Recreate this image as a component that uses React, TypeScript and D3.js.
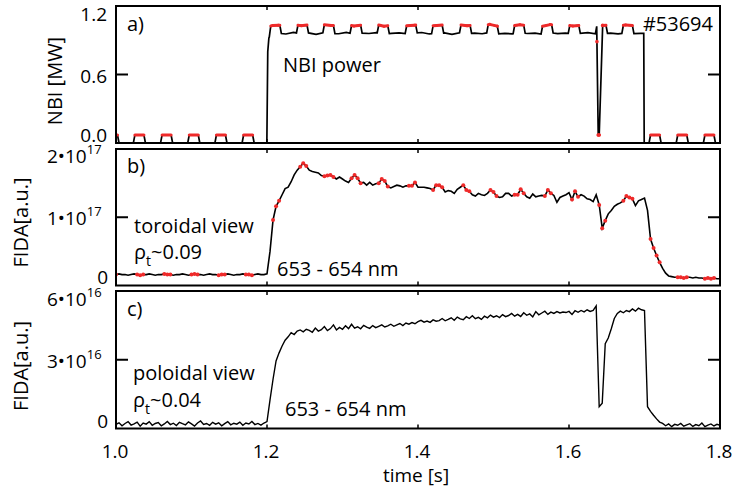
import React from "react";
import * as d3 from "d3";

// ---- time axis ----
const timeDomain = [1.0, 1.8];
const timeTicks = [1.0, 1.2, 1.4, 1.6, 1.8];
const timeTickLabels = ["1.0", "1.2", "1.4", "1.6", "1.8"];

// ---- beam blips (plateau start times, s) ----
const blipStarts = [
  0.990, 1.025, 1.061, 1.097, 1.133, 1.169, 1.205, 1.241, 1.276, 1.312, 1.348, 1.385,
  1.420, 1.457, 1.493, 1.528, 1.565, 1.601, 1.637, 1.672, 1.708, 1.744, 1.780,
];
const blipLength = 0.012; // s
const blipRamp = 0.002; // s
const blipPower = 0.07; // MW

// ---- NBI heating power, breakpoints (s, MW) ----
const nbiBaseTime = [
  1.0, 1.1998, 1.201, 1.2025, 1.205, 1.208,
  1.215, 1.225, 1.235, 1.245, 1.255, 1.265, 1.275, 1.285, 1.295, 1.305, 1.315, 1.325,
  1.335, 1.345, 1.355, 1.365, 1.375, 1.385, 1.395, 1.405, 1.415, 1.425, 1.435, 1.445,
  1.455, 1.465, 1.475, 1.485, 1.495, 1.505, 1.515, 1.525, 1.535, 1.545, 1.555, 1.565,
  1.575, 1.585, 1.595, 1.605, 1.615, 1.625, 1.635,
  1.6367, 1.6387, 1.64, 1.6446,
  1.655, 1.665, 1.675, 1.685, 1.695,
  1.699, 1.6996, 1.8,
];
const nbiBasePower = [
  0, 0, 0.8, 0.92, 0.955, 0.96,
  0.962, 0.955, 0.968, 0.958, 0.964, 0.952, 0.966, 0.96, 0.957, 0.969, 0.954, 0.963,
  0.959, 0.967, 0.953, 0.961, 0.965, 0.956, 0.962, 0.968, 0.955, 0.96, 0.964, 0.951,
  0.966, 0.958, 0.963, 0.957, 0.969, 0.954, 0.961, 0.956, 0.965, 0.959, 0.962, 0.953,
  0.967, 0.958, 0.963, 0.955, 0.96, 0.966, 0.957,
  0.962, 0, 0, 0.96,
  0.962, 0.956, 0.964, 0.958, 0.961,
  0.96, 0, 0,
];

// ---- FIDA signals, sampled every 4 ms from 1.0 s ----
const fidaStart = 1.0;
const fidaStep = 0.004;

// toroidal view, units of 1e17
const fidaToroidal = [
  0.16, 0.17, 0.16, 0.16, 0.15, 0.16, 0.17, 0.16, 0.15, 0.16,
  0.16, 0.17, 0.16, 0.15, 0.16, 0.16, 0.17, 0.16, 0.16, 0.15,
  0.16, 0.16, 0.17, 0.16, 0.15, 0.16, 0.17, 0.16, 0.16, 0.15,
  0.16, 0.17, 0.16, 0.16, 0.15, 0.16, 0.16, 0.17, 0.16, 0.15,
  0.16, 0.16, 0.17, 0.16, 0.16, 0.15, 0.16, 0.17, 0.16, 0.16,
  0.17, 0.5, 0.96, 1.16, 1.24, 1.33, 1.42, 1.44, 1.52, 1.62,
  1.69, 1.74, 1.79, 1.75, 1.69, 1.67, 1.66, 1.65, 1.61, 1.6,
  1.61, 1.62, 1.59, 1.56, 1.59, 1.56, 1.53, 1.51, 1.57, 1.62,
  1.57, 1.5, 1.51, 1.47, 1.51, 1.47, 1.49, 1.5, 1.56, 1.53,
  1.45, 1.43, 1.45, 1.47, 1.46, 1.44, 1.46, 1.46, 1.46, 1.51,
  1.44, 1.44, 1.44, 1.43, 1.42, 1.4, 1.47, 1.47, 1.44, 1.37,
  1.39, 1.38, 1.35, 1.41, 1.44, 1.47, 1.4, 1.38, 1.33, 1.31,
  1.35, 1.33, 1.32, 1.35, 1.4, 1.37, 1.31, 1.29, 1.3, 1.35,
  1.35, 1.31, 1.33, 1.33, 1.41, 1.35, 1.3, 1.28, 1.34, 1.3,
  1.31, 1.32, 1.31, 1.4, 1.35, 1.32, 1.22, 1.29, 1.31, 1.33,
  1.36, 1.26, 1.38, 1.3, 1.33, 1.31, 1.27, 1.26, 1.23, 1.33,
  1.18, 0.84, 0.95, 1.05, 1.1, 1.16, 1.19, 1.21, 1.24, 1.31,
  1.29, 1.27, 1.17, 1.24, 1.26, 1.28, 1.1, 0.68, 0.55, 0.44,
  0.34, 0.25, 0.18, 0.14, 0.13, 0.12, 0.12, 0.12, 0.11, 0.12,
  0.12, 0.11, 0.12, 0.11, 0.11, 0.1, 0.11, 0.1, 0.11, 0.1,
  0.1,
];

// poloidal view, units of 1e16
const fidaPoloidal = [
  0.18, 0.25, 0.12, 0.22, 0.3, 0.15, 0.2, 0.28, 0.1, 0.24,
  0.19, 0.3, 0.14, 0.22, 0.26, 0.12, 0.2, 0.31, 0.17, 0.23,
  0.13, 0.27, 0.21, 0.16, 0.29, 0.2, 0.11, 0.24, 0.33, 0.18,
  0.22, 0.14, 0.27, 0.19, 0.25, 0.12, 0.21, 0.3, 0.16, 0.23,
  0.19, 0.28, 0.14, 0.24, 0.2, 0.31, 0.17, 0.22, 0.15, 0.24,
  0.3, 1.25, 2.15, 2.95, 3.3, 3.6, 3.85, 4.0, 4.18, 4.1,
  4.25, 4.3, 4.22, 4.33, 4.28, 4.2, 4.38, 4.25, 4.31, 4.45,
  4.27, 4.36, 4.52, 4.3, 4.41, 4.33, 4.48, 4.36, 4.55, 4.38,
  4.44, 4.35, 4.5, 4.42, 4.37, 4.49, 4.4, 4.46, 4.52, 4.43,
  4.48, 4.55, 4.46, 4.52, 4.58, 4.49, 4.6, 4.55, 4.62, 4.57,
  4.66, 4.72, 4.64, 4.69, 4.63, 4.74, 4.68, 4.71, 4.8, 4.7,
  4.76, 4.83, 4.72, 4.86, 4.78, 4.75, 4.88, 4.8, 4.92, 4.79,
  4.85, 4.76, 4.9, 4.83, 4.95, 4.86, 4.92, 4.84, 4.97, 4.88,
  4.93, 5.02, 4.9, 4.98, 4.89, 5.05, 4.94, 5.0, 4.87, 5.1,
  4.96, 5.04, 5.12, 4.98, 5.08, 5.02, 5.1, 5.04, 5.08, 5.06,
  5.11, 4.98, 5.14, 5.07, 5.15, 5.09, 5.18, 5.11, 5.15, 5.35,
  0.95, 1.1, 3.7, 3.95, 4.35, 4.8, 5.02, 5.12, 5.05, 5.15,
  5.1, 5.22, 5.12, 5.25, 5.18, 5.15, 0.95, 0.75, 0.58, 0.42,
  0.28, 0.22, 0.12, 0.2, 0.08, 0.18, 0.14, 0.22, 0.1, 0.16,
  0.21, 0.09, 0.17, 0.12, 0.24, 0.08, 0.15, 0.2, 0.11, 0.18,
  0.14,
];

const FONT = "'Open Sans', 'DejaVu Sans', sans-serif";
const RED = "#ef2a2a";

function interp(ts: number[], vs: number[], t: number): number {
  if (t <= ts[0]) return vs[0];
  if (t >= ts[ts.length - 1]) return vs[vs.length - 1];
  const i = d3.bisectRight(ts, t);
  const t0 = ts[i - 1];
  const t1 = ts[i];
  return vs[i - 1] + ((vs[i] - vs[i - 1]) * (t - t0)) / (t1 - t0);
}

function blipIndex(t: number): number {
  return blipStarts.findIndex((s) => t >= s - 1e-7 && t <= s + blipLength + 1e-7);
}

type Pt = { t: number; v: number };

export default function App() {
  const W = 734;
  const H = 492;
  const left = 116;
  const right = 720;
  const panels = [
    { top: 6, bottom: 143 },
    { top: 149, bottom: 285.5 },
    { top: 291, bottom: 428.5 },
  ];

  const x = d3.scaleLinear().domain(timeDomain).range([left, right]);
  const ya = d3.scaleLinear().domain([0, 1.2]).range([panels[0].bottom, panels[0].top]);
  const yb = d3.scaleLinear().domain([0, 2]).range([panels[1].bottom, panels[1].top]);
  const yc = d3.scaleLinear().domain([0, 6]).range([panels[2].bottom, panels[2].top]);

  // NBI trace: heating waveform plus the blip modulation
  const blipNodes = blipStarts.flatMap((s) => [s - blipRamp, s, s + blipLength, s + blipLength + blipRamp]);
  const blipLevels = blipStarts.flatMap(() => [0, blipPower, blipPower, 0]);
  const nbiTimes = Array.from(new Set([...nbiBaseTime, ...blipNodes])).sort((a, b) => a - b);
  const nbiTrace: Pt[] = nbiTimes.map((t) => ({
    t,
    v: interp(nbiBaseTime, nbiBasePower, t) + interp(blipNodes, blipLevels, t),
  }));

  const toroidal: Pt[] = fidaToroidal.map((v, i) => ({ t: fidaStart + i * fidaStep, v }));
  const poloidal: Pt[] = fidaPoloidal.map((v, i) => ({ t: fidaStart + i * fidaStep, v }));

  const lineA = d3.line<Pt>().x((d) => x(d.t)).y((d) => ya(d.v));
  const lineB = d3.line<Pt>().x((d) => x(d.t)).y((d) => yb(d.v));
  const lineC = d3.line<Pt>().x((d) => x(d.t)).y((d) => yc(d.v));

  // red highlight of the NBI trace inside the blip windows
  const redSegs: string[] = [];
  const redDotsA: Pt[] = [];
  for (let i = 0; i < nbiTrace.length - 1; i++) {
    const a = nbiTrace[i];
    const b = nbiTrace[i + 1];
    const ka = blipIndex(a.t);
    const kb = blipIndex(b.t);
    if (ka >= 0 && ka === kb) {
      if (Math.abs(a.v - b.v) < 0.3) {
        redSegs.push(lineA([a, b]) as string);
      } else {
        redDotsA.push(a, b);
      }
    }
  }
  const redDotsB = toroidal.filter((d) => blipIndex(d.t) >= 0);

  const innerTicks = timeTicks.slice(1, -1);

  const frame = (p: { top: number; bottom: number }, mid: number, key: string) => (
    <g key={key} stroke="#000" fill="none">
      <rect x={left} y={p.top} width={right - left} height={p.bottom - p.top} strokeWidth={2} />
      {innerTicks.map((t) => (
        <g key={t} strokeWidth={1.5}>
          <line x1={x(t)} x2={x(t)} y1={p.top} y2={p.top + 4} />
          <line x1={x(t)} x2={x(t)} y1={p.bottom} y2={p.bottom - 4} />
        </g>
      ))}
      <line x1={left} x2={left + 12} y1={mid} y2={mid} strokeWidth={2} />
      <line x1={right - 12} x2={right} y1={mid} y2={mid} strokeWidth={2} />
    </g>
  );

  const clip = (id: string, p: { top: number; bottom: number }) => (
    <clipPath id={id}>
      <rect x={left} y={p.top - 2} width={right - left} height={p.bottom - p.top + 2} />
    </clipPath>
  );

  const expLabel = (base: string, exp: string, y: number) => (
    <text x={47} y={y} fontSize={19}>
      {base}
      <tspan fontSize={13} dy={-9}>
        {exp}
      </tspan>
    </text>
  );

  return (
    <svg
      width={W}
      height={H}
      viewBox={`0 0 ${W} ${H}`}
      style={{ position: "absolute", left: 0, top: 0, background: "#fff" }}
      fontFamily={FONT}
    >
      <defs>
        {clip("clipA", panels[0])}
        {clip("clipB", panels[1])}
        {clip("clipC", panels[2])}
      </defs>

      {/* panel a: NBI power */}
      <g clipPath="url(#clipA)">
        <path d={lineA(nbiTrace) as string} fill="none" stroke="#000" strokeWidth={1.7} />
        {redSegs.map((d, i) => (
          <path key={i} d={d} fill="none" stroke={RED} strokeWidth={3} strokeLinecap="round" />
        ))}
        {redDotsA.map((d, i) => (
          <circle key={i} cx={x(d.t)} cy={ya(d.v)} r={1.8} fill={RED} />
        ))}
      </g>

      {/* panel b: FIDA toroidal view */}
      <g clipPath="url(#clipB)">
        <path d={lineB(toroidal) as string} fill="none" stroke="#000" strokeWidth={1.6} />
        {redDotsB.map((d, i) => (
          <circle key={i} cx={x(d.t)} cy={yb(d.v)} r={2} fill={RED} />
        ))}
      </g>

      {/* panel c: FIDA poloidal view */}
      <g clipPath="url(#clipC)">
        <path d={lineC(poloidal) as string} fill="none" stroke="#000" strokeWidth={1.4} />
      </g>

      {frame(panels[0], ya(0.6), "fa")}
      {frame(panels[1], yb(1), "fb")}
      {frame(panels[2], yc(3), "fc")}

      {/* y tick labels */}
      <g fill="#000">
        <text x={107} y={21} fontSize={19} textAnchor="end">1.2</text>
        <text x={107} y={83} fontSize={19} textAnchor="end">0.6</text>
        <text x={107} y={142} fontSize={19} textAnchor="end">0.0</text>
        {expLabel("2•10", "17", 163)}
        {expLabel("1•10", "17", 225)}
        <text x={108} y={284} fontSize={19} textAnchor="end">0</text>
        {expLabel("6•10", "16", 306)}
        {expLabel("3•10", "16", 368)}
        <text x={108} y={428} fontSize={19} textAnchor="end">0</text>
      </g>

      {/* x tick labels */}
      <g fill="#000" fontSize={19} textAnchor="middle">
        {timeTicks.map((t, i) => (
          <text key={t} x={x(t) - 1} y={458}>
            {timeTickLabels[i]}
          </text>
        ))}
        <text x={416} y={482}>time [s]</text>
      </g>

      {/* axis titles */}
      <g fill="#000" fontSize={20} textAnchor="middle">
        <text transform="translate(62,81) rotate(-90)">NBI [MW]</text>
        <text transform="translate(28,222.5) rotate(-90)">FIDA[a.u.]</text>
        <text transform="translate(28,366) rotate(-90)">FIDA[a.u.]</text>
      </g>

      {/* annotations */}
      <g fill="#000" fontSize={20}>
        <text x={127} y={31}>a)</text>
        <text x={713} y={31} textAnchor="end">#53694</text>
        <text x={283} y={72}>NBI power</text>

        <text x={127} y={173}>b)</text>
        <text x={134} y={233}>toroidal view</text>
        <text x={134} y={259}>
          ρ<tspan fontSize={14} dy={7}>t</tspan>
          <tspan dy={-7}>~0.09</tspan>
        </text>
        <text x={277} y={276}>653 - 654 nm</text>

        <text x={127} y={316}>c)</text>
        <text x={133} y={380}>poloidal view</text>
        <text x={133} y={407}>
          ρ<tspan fontSize={14} dy={7}>t</tspan>
          <tspan dy={-7}>~0.04</tspan>
        </text>
        <text x={285} y={416}>653 - 654 nm</text>
      </g>
    </svg>
  );
}
